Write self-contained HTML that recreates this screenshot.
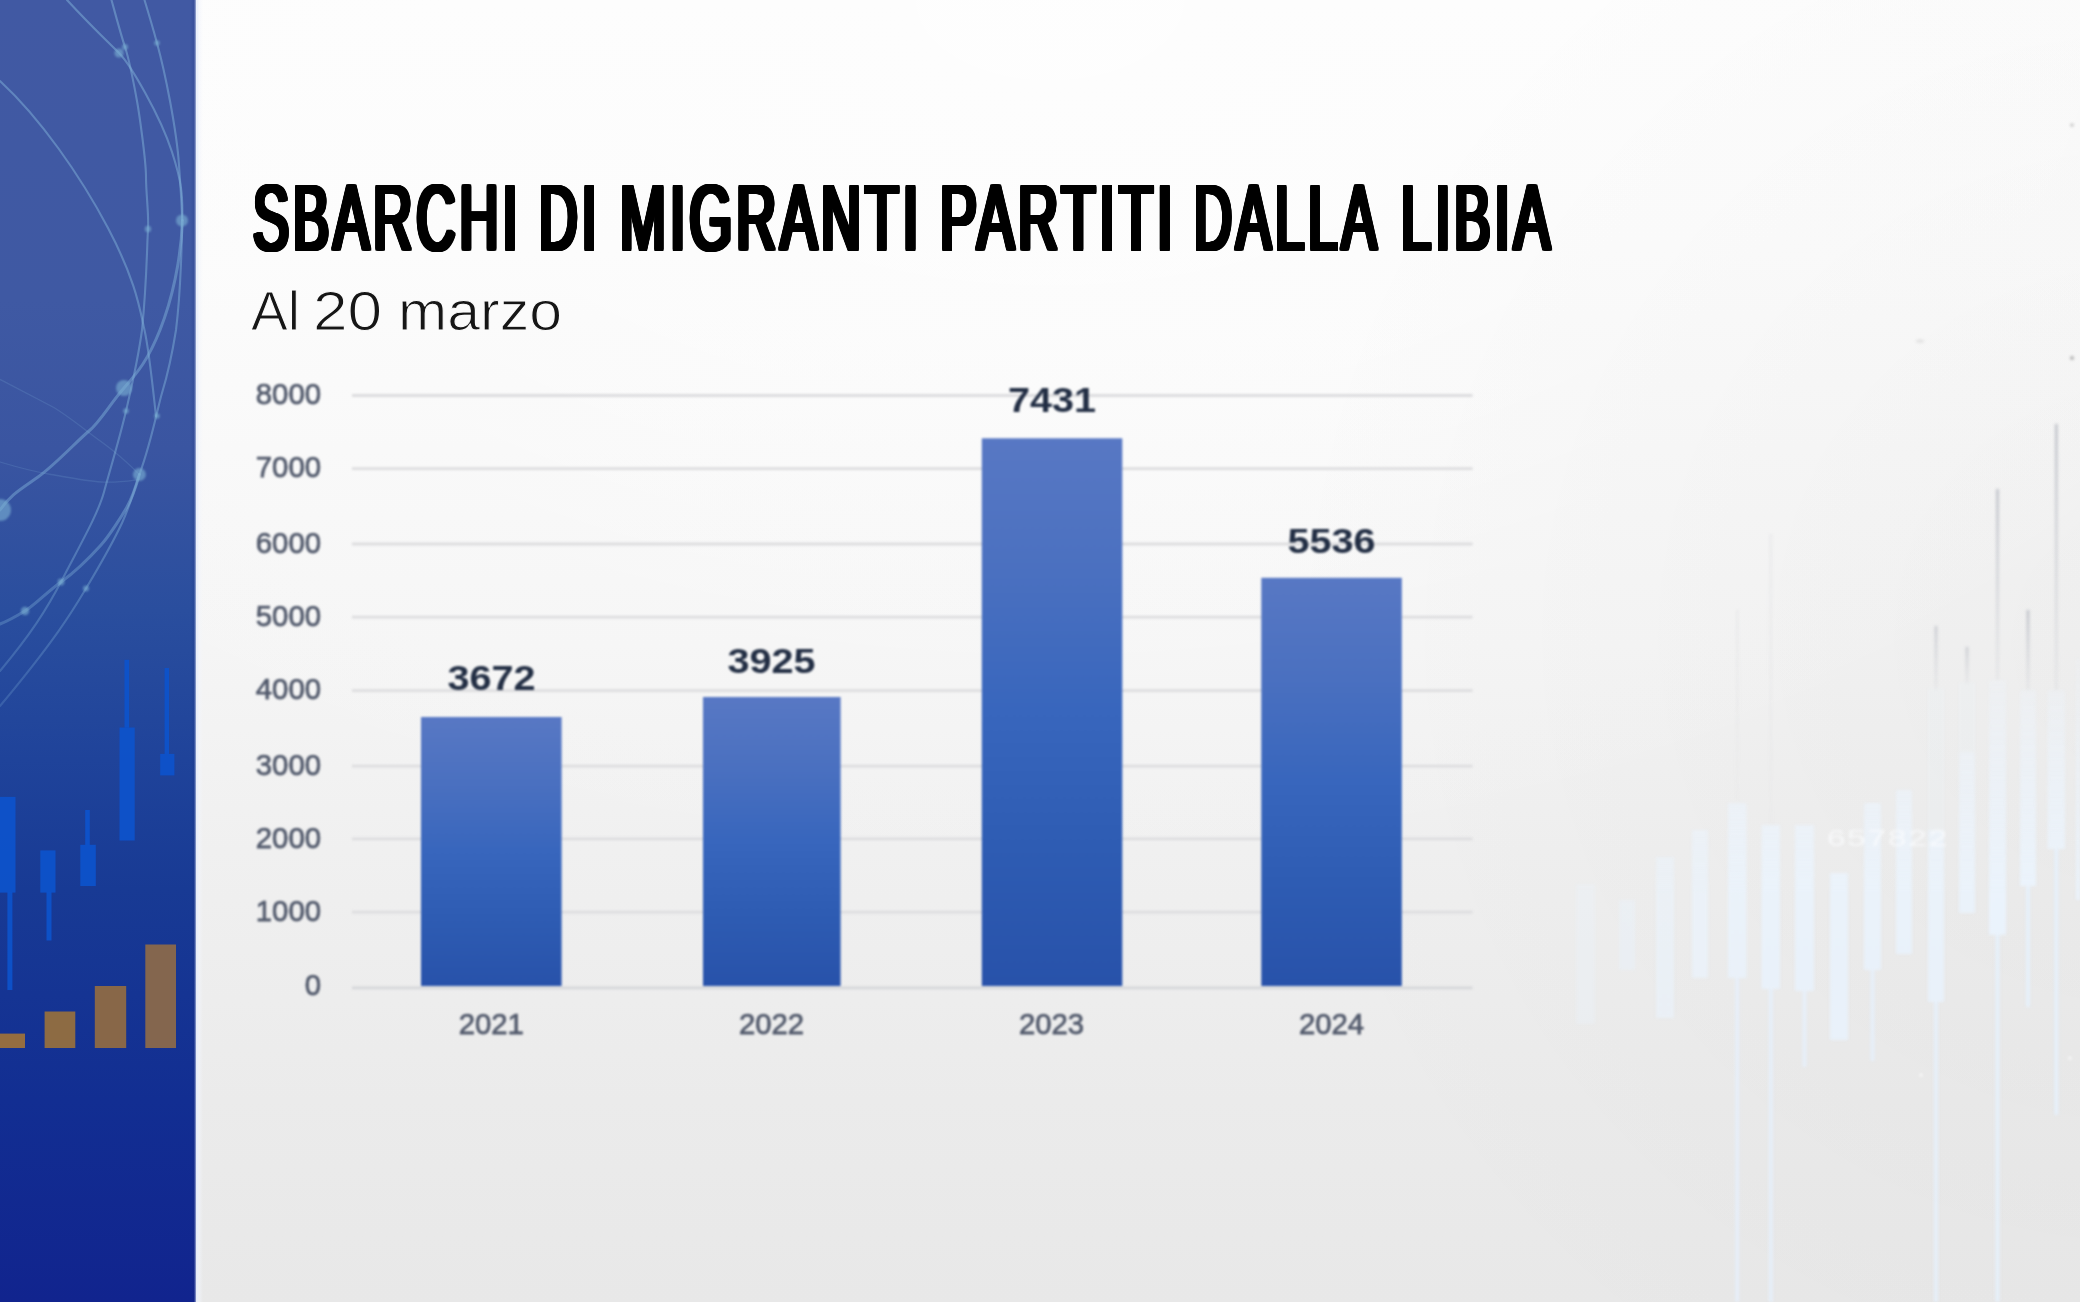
<!DOCTYPE html>
<html lang="it">
<head>
<meta charset="utf-8">
<title>Sbarchi di migranti partiti dalla Libia</title>
<style>
html,body{margin:0;padding:0;background:#f4f4f4;}
body{width:2080px;height:1302px;overflow:hidden;font-family:"Liberation Sans",sans-serif;}
#stage{position:relative;width:2080px;height:1302px;overflow:hidden;
  background:
    radial-gradient(ellipse 900px 900px at 2150px 650px, rgba(0,0,0,.032), rgba(0,0,0,0) 100%),
    radial-gradient(ellipse 1500px 900px at 1050px 0px, rgba(255,255,255,.55), rgba(255,255,255,0) 100%),
    linear-gradient(180deg,#fcfcfc 0px,#fbfbfb 250px,#f8f8f8 450px,#f5f5f5 646px,#f0f0f0 850px,#ededed 1000px,#ebebeb 1100px,#e8e8e8 1302px);}
#panel{position:absolute;left:0;top:0;width:196px;height:1302px;overflow:hidden;
  background:linear-gradient(180deg,#4159a3 0px,#3f59a3 300px,#3a55a1 450px,#2a4e9e 610px,#1f439a 760px,#183a94 890px,#122e92 1100px,#11248e 1302px);}
#panel:after{content:"";position:absolute;right:0;top:0;width:6px;height:100%;
  background:linear-gradient(90deg,rgba(20,40,120,0),rgba(20,40,120,.28));}
#edge{position:absolute;left:194.4px;top:0;width:9px;height:1302px;
  background:linear-gradient(90deg,rgba(226,233,250,0) 0,rgba(226,233,250,.5) 1.6px,rgba(232,238,251,.95) 3.2px,rgba(242,245,252,.6) 5px,rgba(245,247,252,0) 9px);}
svg{position:absolute;left:0;top:0;display:block;}
/* title */
.tw{position:absolute;top:164.3px;white-space:pre;line-height:1;color:#000;
  font:normal 93.6px "Liberation Sans",sans-serif;letter-spacing:7.15px;transform-origin:0 0;
  text-shadow:-4px 0px #000,-3px 0px #000,-2px 0px #000,-1px 0px #000,1px 0px #000,2px 0px #000,3px 0px #000,4px 0px #000,-4px -0.6px #000,-3px -0.6px #000,-2px -0.6px #000,-1px -0.6px #000,0px -0.6px #000,1px -0.6px #000,2px -0.6px #000,3px -0.6px #000,4px -0.6px #000,-4px 0.6px #000,-3px 0.6px #000,-2px 0.6px #000,-1px 0.6px #000,0px 0.6px #000,1px 0.6px #000,2px 0.6px #000,3px 0.6px #000,4px 0.6px #000;}
.sw{position:absolute;top:277.5px;white-space:pre;line-height:1;color:#161616;
  font:normal 56px "Liberation Sans",sans-serif;transform-origin:0 0;
  -webkit-text-stroke:1.1px #fbfbfb;}
#chart{filter:blur(.85px);}
#chart text{font-family:"Liberation Sans",sans-serif;}
.ax{font-size:29.3px;fill:#525a6c;stroke:#525a6c;stroke-width:.75px;}
.dl{font-size:36px;font-weight:bold;fill:#222e44;}
</style>
</head>
<body>
<div id="stage">

<svg id="rbg" width="2080" height="1302" viewBox="0 0 2080 1302" style="filter:blur(1.5px)">
<defs><linearGradient id="cb" gradientUnits="userSpaceOnUse" x1="0" y1="640" x2="0" y2="1000"><stop offset="0" stop-color="#eef5fd" stop-opacity=".12"/><stop offset=".35" stop-color="#ecf4fd" stop-opacity=".6"/><stop offset=".7" stop-color="#eaf3fc" stop-opacity="1"/><stop offset="1" stop-color="#e9f2fc" stop-opacity="1"/></linearGradient><linearGradient id="wk" x1="0" y1="0" x2="0" y2="1"><stop offset="0" stop-color="#b9bcc4" stop-opacity=".95"/><stop offset="1" stop-color="#c9ccd3" stop-opacity=".25"/></linearGradient></defs>
<rect x="1576" y="884" width="19.0" height="140" fill="url(#cb)" opacity="0.3"/>
<rect x="1619" y="900" width="16.0" height="70" fill="url(#cb)" opacity="0.45"/>
<rect x="1656" y="857" width="18.0" height="161" fill="url(#cb)" opacity="0.60"/>
<rect x="1692" y="830" width="16.0" height="148" fill="url(#cb)" opacity="0.70"/>
<rect x="1736.0" y="610" width="2.6" height="193" fill="url(#wk)" opacity="0.14"/>
<rect x="1735.2" y="978" width="4" height="324" fill="#e6f0fb" opacity="0.85"/>
<rect x="1728" y="803" width="18.5" height="175" fill="url(#cb)" opacity="0.85"/>
<rect x="1769.5" y="534" width="2.6" height="291" fill="url(#wk)" opacity="0.16"/>
<rect x="1768.8" y="989" width="4" height="313" fill="#e6f0fb" opacity="0.90"/>
<rect x="1761.6" y="825" width="18.4" height="164" fill="url(#cb)" opacity="0.90"/>
<rect x="1802.5" y="991" width="4" height="76" fill="#e6f0fb" opacity="0.90"/>
<rect x="1795" y="825" width="19.0" height="166" fill="url(#cb)" opacity="0.90"/>
<rect x="1830" y="873" width="18.0" height="167" fill="url(#cb)" opacity="0.90"/>
<rect x="1870.5" y="970" width="4" height="91" fill="#e6f0fb" opacity="0.90"/>
<rect x="1864" y="803" width="17.0" height="167" fill="url(#cb)" opacity="0.90"/>
<rect x="1896" y="790" width="16.0" height="164" fill="url(#cb)" opacity="0.90"/>
<rect x="1934.7" y="626" width="2.6" height="64" fill="url(#wk)" opacity="0.75"/><rect x="1928" y="688" width="16" height="142" fill="#eaf3fc" opacity="0.2"/>
<rect x="1934.0" y="1002" width="4" height="300" fill="#e6f0fb" opacity="0.90"/>
<rect x="1928" y="830" width="16.0" height="172" fill="url(#cb)" opacity="0.90"/>
<rect x="1965.7" y="647" width="2.6" height="37" fill="url(#wk)" opacity="0.75"/><rect x="1959" y="682" width="16" height="70" fill="#eaf3fc" opacity="0.2"/>
<rect x="1959" y="752" width="16.0" height="161" fill="url(#cb)" opacity="0.90"/>
<rect x="1996.2" y="489" width="2.6" height="191" fill="url(#wk)" opacity="0.95"/>
<rect x="1995.5" y="935" width="4" height="367" fill="#e6f0fb" opacity="0.95"/>
<rect x="1989" y="680" width="17.0" height="255" fill="url(#cb)" opacity="0.95"/>
<rect x="2026.7" y="610" width="2.6" height="80" fill="url(#wk)" opacity="0.95"/>
<rect x="2026.0" y="886" width="4" height="121" fill="#e6f0fb" opacity="0.95"/>
<rect x="2020" y="690" width="16.0" height="196" fill="url(#cb)" opacity="0.95"/>
<rect x="2055.0" y="424" width="2.6" height="266" fill="url(#wk)" opacity="0.95"/>
<rect x="2054.3" y="849" width="4" height="266" fill="#e6f0fb" opacity="0.95"/>
<rect x="2047.6" y="690" width="17.4" height="159" fill="url(#cb)" opacity="0.95"/>
<rect x="2076" y="658" width="4.0" height="242" fill="url(#cb)" opacity="0.90"/>
<text x="1826" y="846" font-family="Liberation Mono, monospace" font-size="24" fill="#fbfcfe" opacity=".75" textLength="122" lengthAdjust="spacingAndGlyphs">657822</text>
<circle cx="2072" cy="125" r="1.6" fill="#9a9a9a" opacity=".7"/><circle cx="2072" cy="358" r="1.8" fill="#8a8a8a" opacity=".8"/><ellipse cx="1920" cy="341" rx="4" ry="1.5" fill="#d8d8d8" opacity=".8"/><circle cx="1921" cy="1075" r="1.6" fill="#ffffff" opacity=".9"/><circle cx="2070" cy="1058" r="1.6" fill="#ffffff" opacity=".9"/>
</svg>

<div id="panel">
<svg width="196" height="1302" viewBox="0 0 196 1302">
<defs><linearGradient id="lg" gradientUnits="userSpaceOnUse" x1="0" y1="0" x2="0" y2="720"><stop offset="0" stop-color="#7fb0d8" stop-opacity=".52"/><stop offset=".7" stop-color="#7fb0d8" stop-opacity=".47"/><stop offset="1" stop-color="#7fb0d8" stop-opacity=".22"/></linearGradient></defs>
<g fill="none" stroke="url(#lg)" stroke-width="2.1" stroke-linecap="round" style="filter:blur(.6px)">
<!-- A: long diagonal from left edge -->
<path d="M0 81 C40 118 80 175 108 228 S140 310 144.5 330 S152 380 156 416"/>
<!-- B -->
<path d="M67 0 C90 25 108 42 119 53 S160 115 172 152 S182 200 182.5 220.5"/>
<!-- C -->
<path d="M111.5 0 C117 20 121 35 125 47 S135 90 137 101 S146 160 146 177 S149 215 148 229 S147 280 142 330 C138 360 132 385 126 411 S110 470 104 492 S80 545 63 578 S30 635 0 671"/>
<!-- D -->
<path d="M144.5 0 C150 18 154 32 157 43 S167 85 170 101 S178 150 179 165 S182 205 182 220.5 S181 290 176 330 C172 355 166 380 162 393 S152 440 139.4 474.5"/>
<!-- B lower thick -->
<path stroke-width="3" d="M182.5 220.5 C181 260 172 300 160 330 S138 372 124 388 S100 422 89 431 S55 465 38 477 S10 495 0 510"/>
<!-- D lower thick -->
<path stroke-width="3" d="M139.4 474.5 C135 490 131 500 127 507 S110 535 101 545 S75 572 61 582 S35 605 25 611 S8 621 0 624"/>
<!-- L5 -->
<path d="M139.4 474.5 C134 492 128 510 122 523 S100 565 86 588.5 S55 640 0 706"/>
<!-- faint thin -->
<path stroke-width="1.3" stroke-opacity=".4" d="M0 379.4 C20 390 36 398 51 406 S85 430 101 441.5 S128 463 139.4 474.5"/>
<path stroke-width="1.3" stroke-opacity=".4" d="M0 462 C20 468 36 472 51 474.5 S85 481 101 482 S128 481 139.4 479.5"/>
</g>
<g fill="#79aed2" fill-opacity=".64" style="filter:blur(.8px)">
<circle cx="119" cy="53" r="4.6"/><circle cx="125" cy="47" r="3"/><circle cx="157" cy="43" r="2.8"/>
<circle cx="182" cy="220.5" r="6"/><circle cx="148" cy="229" r="3.2"/>
<circle cx="124" cy="388" r="8"/><circle cx="126" cy="411" r="2.8"/><circle cx="157" cy="416" r="2.8"/>
<circle cx="139.4" cy="474.5" r="6.5"/><circle cx="0" cy="510" r="11"/>
<circle cx="61" cy="582" r="3.4"/><circle cx="86" cy="588.5" r="3"/><circle cx="25" cy="611" r="4.2"/>
</g>
<!-- candlesticks -->
<g fill="#0d53cb" fill-opacity=".93" style="filter:blur(.7px)">
<rect x="0" y="796.9" width="15.5" height="95.7"/><rect x="7.4" y="892" width="5" height="98"/>
<rect x="40.3" y="850.4" width="15.2" height="42.2"/><rect x="46.5" y="892" width="5" height="48.5"/>
<rect x="80.3" y="844.8" width="15.5" height="41.2"/><rect x="85.2" y="810" width="4.6" height="35"/>
<rect x="119.5" y="727.5" width="15.2" height="113"/><rect x="124.5" y="659.8" width="4.6" height="68"/>
<rect x="160.2" y="753.9" width="14.2" height="21.5"/><rect x="164.6" y="668" width="4.4" height="86"/>
</g>
<!-- orange bars --><g style="filter:blur(.7px)">
<rect x="0" y="1033.6" width="25" height="14.4" fill="#946d40"/>
<rect x="44.6" y="1011.5" width="30.7" height="36.5" fill="#8d6b43"/>
<rect x="94.8" y="986" width="31.4" height="62" fill="#886748"/>
<rect x="145.3" y="944.5" width="30.7" height="103.5" fill="#84664e"/></g>
</svg>
</div>
<div id="edge"></div>

<h1 style="margin:0">
<span class="tw" id="w1" style="left:253px;transform:scaleX(0.5764)">SBARCHI</span>
<span class="tw" id="w2" style="left:539.3px;transform:scaleX(0.571)">DI</span>
<span class="tw" id="w3" style="left:620.2px;transform:scaleX(0.5872)">MIGRANTI</span>
<span class="tw" id="w4" style="left:940px;transform:scaleX(0.5915)">PARTITI</span>
<span class="tw" id="w5" style="left:1194px;transform:scaleX(0.5611)">DALLA</span>
<span class="tw" id="w6" style="left:1401px;transform:scaleX(0.5785)">LIBIA</span>
</h1>
<p style="margin:0">
<span class="sw" id="s1" style="left:251px;transform:scaleX(.985)">Al</span>
<span class="sw" id="s2" style="left:313px;transform:scaleX(1.11)">20</span>
<span class="sw" id="s3" style="left:397.5px;transform:scaleX(1.054)">marzo</span>
</p>

<svg id="chart" width="2080" height="1302" viewBox="0 0 2080 1302">
<defs>
<linearGradient id="bg1" x1="0" y1="0" x2="0" y2="1">
<stop offset="0" stop-color="#5878c4"/><stop offset=".25" stop-color="#4a70c0"/>
<stop offset=".5" stop-color="#3866bd"/><stop offset=".75" stop-color="#2e5cb3"/>
<stop offset="1" stop-color="#2852aa"/>
</linearGradient>
</defs>
<g stroke="#dddddf" stroke-width="2.8">
<line x1="352" x2="1472.5" y1="395.5" y2="395.5"/>
<line x1="352" x2="1472.5" y1="468.6" y2="468.6"/>
<line x1="352" x2="1472.5" y1="544" y2="544"/>
<line x1="352" x2="1472.5" y1="617.1" y2="617.1"/>
<line x1="352" x2="1472.5" y1="690.6" y2="690.6"/>
<line x1="352" x2="1472.5" y1="766.1" y2="766.1"/>
<line x1="352" x2="1472.5" y1="838.8" y2="838.8"/>
<line x1="352" x2="1472.5" y1="912.1" y2="912.1"/>
<line x1="352" x2="1472.5" y1="987.8" y2="987.8" stroke="#d6d7da"/>
</g>
<g fill="url(#bg1)">
<rect x="421" y="717" width="140.6" height="269"/>
<rect x="703" y="697" width="137.6" height="289"/>
<rect x="981.8" y="438.3" width="140.5" height="547.7"/>
<rect x="1261.3" y="577.8" width="140.5" height="408.2"/>
</g>
<g class="ax" text-anchor="end">
<text x="321" y="404.3">8000</text>
<text x="321" y="477.4">7000</text>
<text x="321" y="552.8">6000</text>
<text x="321" y="625.9">5000</text>
<text x="321" y="699.4">4000</text>
<text x="321" y="774.9">3000</text>
<text x="321" y="847.6">2000</text>
<text x="321" y="920.9">1000</text>
<text x="321" y="994.6">0</text>
</g>
<g class="ax" text-anchor="middle">
<text x="491.3" y="1034.4">2021</text>
<text x="771.5" y="1034.4">2022</text>
<text x="1051.5" y="1034.4">2023</text>
<text x="1331.5" y="1034.4">2024</text>
</g>
<g class="dl" text-anchor="middle">
<text transform="translate(491.6 690) scale(1.1 1)">3672</text>
<text transform="translate(771.5 672.6) scale(1.1 1)">3925</text>
<text transform="translate(1052 411.5) scale(1.1 1)">7431</text>
<text transform="translate(1331.5 552.8) scale(1.1 1)">5536</text>
</g>
</svg>

</div>
</body>
</html>
